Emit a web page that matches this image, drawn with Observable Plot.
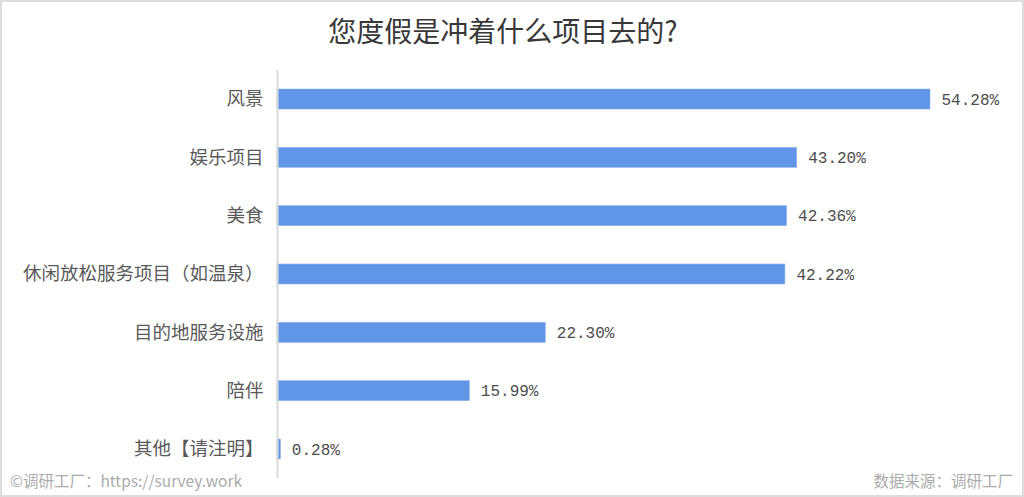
<!DOCTYPE html>
<html>
<head>
<meta charset="utf-8">
<script src="https://cdn.jsdelivr.net/npm/d3@7"></script>
<script src="https://cdn.jsdelivr.net/npm/@observablehq/plot@0.6"></script>
<style>
  html, body { margin: 0; padding: 0; background: #fff; }
  #wrap { position: relative; width: 1024px; height: 497px; overflow: hidden; background: #fff; }
  #border { position: absolute; left: 0; top: 0; width: 1024px; height: 497px; box-sizing: border-box; border: 2px solid #dcdcdc; pointer-events: none; }
  #chart { position: absolute; left: 0; top: 0; }
  #title { position: absolute; left: 0; width: 1006px; top: 10px; text-align: center; font-family: "Noto Sans CJK SC", sans-serif; font-size: 28px; color: #383838; }
  .foot { position: absolute; top: 469px; font-family: "Noto Sans CJK SC", sans-serif; font-size: 15.5px; color: #ababab; }
  #footL { left: 10px; }
  #footR { right: 11px; }
</style>
</head>
<body>
<div id="wrap">
  <div id="chart"></div>
  <div id="title">您度假是冲着什么项目去的?</div>
  <div class="foot" id="footL">©调研工厂：https://survey.work</div>
  <div class="foot" id="footR">数据来源：调研工厂</div>
  <div id="border"></div>
</div>
<script>
const categories = ["风景", "娱乐项目", "美食", "休闲放松服务项目（如温泉）", "目的地服务设施", "陪伴", "其他【请注明】"];
const values = [54.28, 43.20, 42.36, 42.22, 22.30, 15.99, 0.28];

const data = categories.map((c, i) => ({category: c, value: values[i]}));

const chart = Plot.plot({
  width: 1024,
  height: 497,
  marginLeft: 277,
  marginRight: 94,
  marginTop: 70,
  marginBottom: 19,
  style: {background: "transparent", overflow: "visible"},
  x: {domain: [0, 54.28], axis: null},
  y: {domain: categories, paddingInner: 0.657, paddingOuter: 0.326, round: false, label: null},
  marks: [
    Plot.axisY({tickSize: 0, tickPadding: 14, fontSize: 18.5, fill: "#595959", label: null,
      fontFamily: "Noto Sans CJK SC"}),
    Plot.barX(data, {x: "value", y: "category", fill: "#6096e5", stroke: "#8db4ee", strokeWidth: 0.6}),
    Plot.text(data, {x: "value", y: "category", text: d => d.value.toFixed(2) + "%", textAnchor: "start", dx: 11,
      fontSize: 16, fill: "#4d4d4d", fontFamily: "Liberation Mono"}),
    Plot.ruleX([0], {stroke: "#d9d9d9", strokeWidth: 2})
  ]
});
document.getElementById("chart").appendChild(chart);
</script>
</body>
</html>
